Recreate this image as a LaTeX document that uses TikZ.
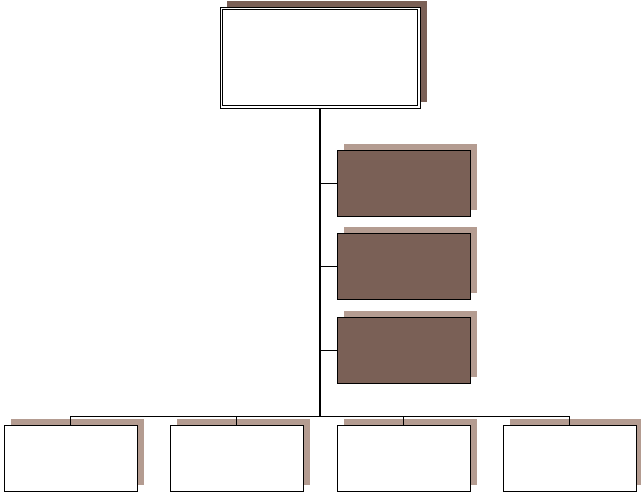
\documentclass[tikz,border=0pt]{standalone}
\usepackage{tikz}
\usetikzlibrary{positioning,calc,shadows,backgrounds}
\definecolor{bark}{HTML}{7A6056}
\definecolor{barklt}{HTML}{B49C91}
\tikzset{
  unit/.style={draw=black,line width=0.8pt,fill=white,inner sep=0pt,
    minimum width=133pt,minimum height=66pt,
    general shadow={fill=barklt,shadow xshift=6.5pt,shadow yshift=5.5pt}},
  staff/.style={unit,fill=bark},
  head/.style={draw=black,line width=0.8pt,fill=white,inner sep=0pt,
    minimum width=200pt,minimum height=101pt,
    general shadow={fill=bark,shadow xshift=7pt,shadow yshift=6pt}},
  link/.style={draw=black,line width=0.8pt},
}
\begin{document}
\begin{tikzpicture}[x=1pt,y=-1pt]
  \useasboundingbox (0,0) rectangle (641,494);
  % ---- head of the chart ----
  \node[head] (top) at (320,57.5) {};
  \draw[line width=0.8pt] ($(top.north west)+(3,3)$) rectangle ($(top.south east)+(-3,-3)$);
  \coordinate (bus) at (320,416);
  \draw[link,line width=1.1pt] (top.south) -- (bus);
  % ---- staff boxes beside the trunk ----
  \node[staff] (s1) at (403.5,183) {};
  \node[staff] (s2) at (403.5,266) {};
  \node[staff] (s3) at (403.5,350) {};
  \foreach \s in {s1,s2,s3}
    \draw[link] (\s.west) -- (\s.west -| top.south);
  % ---- lower row ----
  \node[unit] (u1) at (70.5,458) {};
  \node[unit] (u2) at (236.5,458) {};
  \node[unit] (u3) at (403.5,458) {};
  \node[unit] (u4) at (569.5,458) {};
  \foreach \u in {u1,u2,u3,u4}
    \draw[link] (\u.north) |- (bus);
\end{tikzpicture}
\end{document}
